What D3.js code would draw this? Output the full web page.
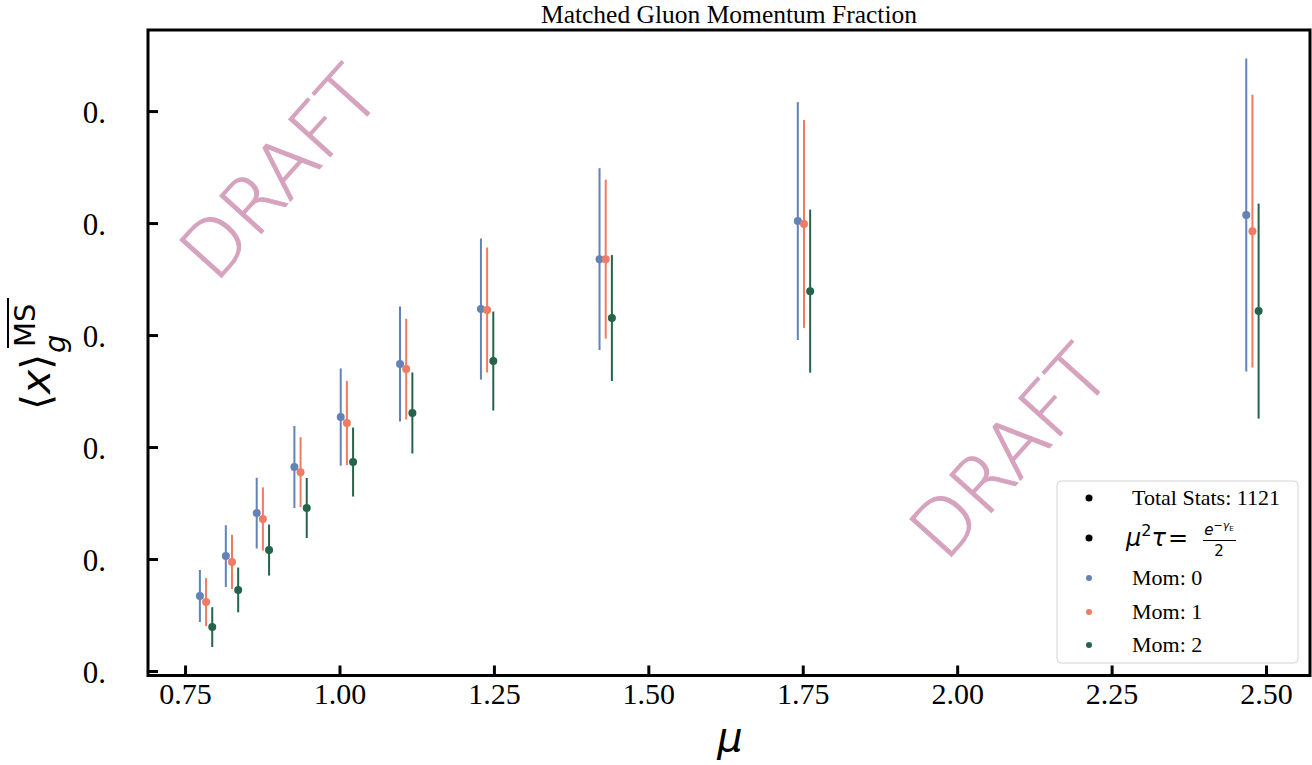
<!DOCTYPE html>
<html>
<head>
<meta charset="utf-8">
<script src="https://cdn.jsdelivr.net/npm/d3@7"></script>
<style>
  body { margin: 0; background: #fff; }
</style>
</head>
<body>
<div id="chart"></div>
<script>
// mu values (centre of each group), each momentum is shifted a bit sideways
const mu = [0.784, 0.826, 0.876, 0.937, 1.012, 1.108, 1.239, 1.431, 1.752, 2.478];
const momShift = [-0.01, 0, 0.01];
const momLabels = ["Mom: 0", "Mom: 1", "Mom: 2"];
const momColors = ["#6282b8", "#ee7b63", "#25644b"];

const mom0 = [0.3335, 0.3513, 0.3705, 0.3911, 0.4134, 0.4371, 0.4616, 0.4839, 0.5009, 0.5036];
const mom0Err = [0.0116, 0.0138, 0.0158, 0.0183, 0.0217, 0.0257, 0.0315, 0.0406, 0.0531, 0.0699];
const mom1 = [0.3308, 0.3487, 0.3679, 0.3888, 0.4107, 0.4348, 0.4612, 0.4839, 0.4996, 0.4964];
const mom1Err = [0.0107, 0.0121, 0.0141, 0.0156, 0.0188, 0.0225, 0.0279, 0.0355, 0.0464, 0.0609];
const mom2 = [0.3196, 0.3362, 0.3540, 0.3728, 0.3933, 0.4152, 0.4384, 0.4576, 0.4696, 0.4607];
const mom2Err = [0.0089, 0.0100, 0.0114, 0.0134, 0.0154, 0.0181, 0.0221, 0.0281, 0.0364, 0.0480];

const xTicks = [0.75, 1.00, 1.25, 1.50, 1.75, 2.00, 2.25, 2.50];
const yTicks = [0.30, 0.35, 0.40, 0.45, 0.50, 0.55];

const series = [mom0, mom1, mom2].map((vals, k) => ({
    label: momLabels[k],
    color: momColors[k],
    points: vals.map((v, i) => ({ x: mu[i] + momShift[k], y: v, err: [mom0Err, mom1Err, mom2Err][k][i] }))
}));

const W = 1312, H = 765;
const plotLeft = 148, plotRight = 1310, plotTop = 30, plotBottom = 675.5;

const svg = d3.select("#chart").append("svg")
    .attr("width", W)
    .attr("height", H)
    .style("font-family", "'Liberation Serif', 'Times New Roman', serif");

const x = d3.scaleLinear().domain([0.690, 2.5712]).range([plotLeft, plotRight]);
const y = d3.scaleLinear().domain([0.298, 0.5862]).range([plotBottom, plotTop]);

// title
svg.append("text")
    .attr("x", 729)
    .attr("y", 23)
    .attr("text-anchor", "middle")
    .style("font-size", "25.5px")
    .text("Matched Gluon Momentum Fraction");

// watermarks
[[280, 173], [1010, 452]].forEach(([cx, cy]) => {
    svg.append("text")
        .attr("transform", `translate(${cx},${cy}) rotate(-48)`)
        .attr("text-anchor", "middle")
        .attr("dominant-baseline", "central")
        .style("font-family", "'DejaVu Sans', sans-serif")
        .style("font-weight", 200)
        .style("font-size", "77px")
        .attr("fill", "#d6a3bf")
        .attr("stroke", "#d6a3bf")
        .attr("stroke-width", 1)
        .text("DRAFT");
});

// axes (ticks pointing inward)
const xAxis = svg.append("g")
    .attr("transform", `translate(0,${plotBottom})`)
    .call(d3.axisBottom(x).tickValues(xTicks).tickSize(-10).tickFormat(d3.format(".2f")));
xAxis.select(".domain").remove();
xAxis.selectAll(".tick line").attr("stroke", "#000").attr("stroke-width", 3);
xAxis.selectAll(".tick text")
    .attr("y", 28.5)
    .attr("dy", 0)
    .style("font-family", "'Liberation Serif', serif")
    .style("font-size", "30px")
    .attr("fill", "#000");

const yAxis = svg.append("g")
    .attr("transform", `translate(${plotLeft},0)`)
    .call(d3.axisLeft(y).tickValues(yTicks).tickSize(-10).tickPadding(42).tickFormat(() => "0."));
yAxis.select(".domain").remove();
yAxis.selectAll(".tick line").attr("stroke", "#000").attr("stroke-width", 3);
yAxis.selectAll(".tick text")
    .attr("dy", "0.36em")
    .style("font-family", "'Liberation Serif', serif")
    .style("font-size", "31px")
    .attr("fill", "#000");

// frame
svg.append("rect")
    .attr("x", plotLeft)
    .attr("y", plotTop)
    .attr("width", plotRight - plotLeft)
    .attr("height", plotBottom - plotTop)
    .attr("fill", "none")
    .attr("stroke", "#000")
    .attr("stroke-width", 3);

// error bars + points
series.forEach(s => {
    const g = svg.append("g");
    g.selectAll("line")
        .data(s.points)
        .enter().append("line")
        .attr("x1", d => x(d.x))
        .attr("x2", d => x(d.x))
        .attr("y1", d => y(d.y - d.err))
        .attr("y2", d => y(d.y + d.err))
        .attr("stroke", s.color)
        .attr("stroke-width", 2);
    g.selectAll("circle")
        .data(s.points)
        .enter().append("circle")
        .attr("cx", d => x(d.x))
        .attr("cy", d => y(d.y))
        .attr("r", 4)
        .attr("fill", s.color);
});

// axis labels
svg.append("text")
    .attr("x", 730)
    .attr("y", 751)
    .attr("text-anchor", "middle")
    .style("font-family", "'DejaVu Sans', sans-serif")
    .style("font-style", "italic")
    .style("font-size", "40px")
    .text("μ");

const yl = svg.append("g")
    .attr("transform", "translate(50,0) rotate(-90)")
    .style("font-family", "'DejaVu Sans', sans-serif");
yl.append("text")
    .attr("x", -410)
    .attr("y", 0)
    .style("font-size", "41px")
    .html('⟨<tspan font-style="italic">x</tspan>⟩');
yl.append("text")
    .attr("x", -353)
    .attr("y", 15)
    .style("font-size", "29px")
    .style("font-style", "italic")
    .text("g");
yl.append("text")
    .attr("x", -347)
    .attr("y", -15)
    .style("font-size", "29px")
    .text("MS");
yl.append("line")
    .attr("x1", -348)
    .attr("x2", -298)
    .attr("y1", -42)
    .attr("y2", -42)
    .attr("stroke", "#000")
    .attr("stroke-width", 2);

// legend
const legend = svg.append("g");
legend.append("rect")
    .attr("x", 1057)
    .attr("y", 481)
    .attr("width", 241)
    .attr("height", 182)
    .attr("rx", 4)
    .attr("fill", "#fff")
    .attr("fill-opacity", 0.85)
    .attr("stroke", "#d4d4d4")
    .attr("stroke-width", 1);

const legendRows = [
    { text: "Total Stats: 1121", color: "#000", cy: 498, r: 3.5 },
    { text: null, color: "#000", cy: 538, r: 3.5 },
    { text: momLabels[0], color: momColors[0], cy: 578, r: 3 },
    { text: momLabels[1], color: momColors[1], cy: 612, r: 3 },
    { text: momLabels[2], color: momColors[2], cy: 645, r: 3 }
];
legendRows.forEach(row => {
    legend.append("circle")
        .attr("cx", 1089)
        .attr("cy", row.cy)
        .attr("r", row.r)
        .attr("fill", row.color);
    if (row.text) {
        legend.append("text")
            .attr("x", 1132)
            .attr("y", row.cy + 7)
            .style("font-size", "22px")
            .text(row.text);
    }
});

// mu^2 tau = e^{-gamma_E} / 2
const math = legend.append("g").style("font-family", "'DejaVu Sans', sans-serif");
math.append("text")
    .attr("x", 1126)
    .attr("y", 546)
    .style("font-size", "24px")
    .html('<tspan font-style="italic">μ</tspan><tspan font-size="16px" dy="-10">2</tspan><tspan font-style="italic" dy="10">τ</tspan><tspan dx="2">=</tspan>');
math.append("text")
    .attr("x", 1219)
    .attr("y", 535)
    .attr("text-anchor", "middle")
    .style("font-size", "15px")
    .html('<tspan font-style="italic">e</tspan><tspan font-size="11px" dy="-6">−</tspan><tspan font-size="11px" font-style="italic">γ</tspan><tspan font-size="7px" dy="2">E</tspan>');
math.append("line")
    .attr("x1", 1203)
    .attr("x2", 1236)
    .attr("y1", 540.5)
    .attr("y2", 540.5)
    .attr("stroke", "#000")
    .attr("stroke-width", 1.2);
math.append("text")
    .attr("x", 1219)
    .attr("y", 556)
    .attr("text-anchor", "middle")
    .style("font-size", "15px")
    .text("2");
</script>
</body>
</html>
